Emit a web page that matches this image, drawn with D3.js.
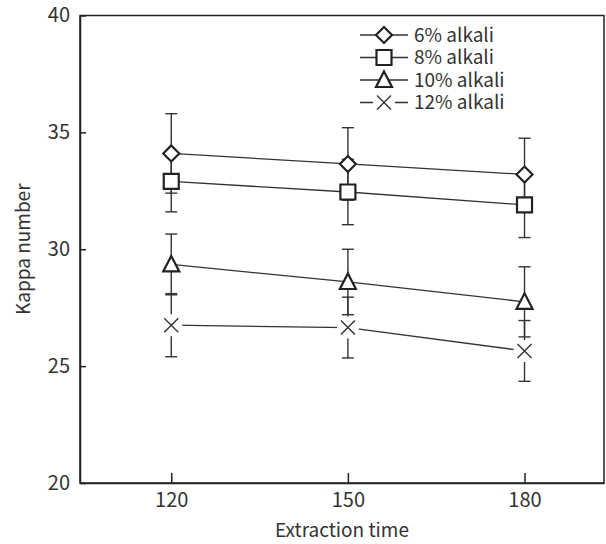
<!DOCTYPE html>
<html>
<head>
<meta charset="utf-8">
<script src="https://cdn.jsdelivr.net/npm/d3@7"></script>
<style>
  body { margin: 0; background: #fff; }
  svg { display: block; }
  text { font-family: "Noto Sans CJK KR", "Noto Sans", sans-serif; fill: #333; }
</style>
</head>
<body>
<div id="chart"></div>
<script>
// data
var times = [120, 150, 180];
var seriesNames = ["6% alkali", "8% alkali", "10% alkali", "12% alkali"];
var shapes = ["diamond", "square", "triangle", "cross"];
var kappa6 = [34.1, 33.65, 33.2];
var kappa8 = [32.9, 32.45, 31.9];
var kappa10 = [29.35, 28.6, 27.75];
var kappa12 = [26.75, 26.65, 25.65];
var err6 = [1.7, 1.55, 1.55];
var err8 = [1.3, 1.4, 1.4];
var err10 = [1.3, 1.4, 1.5];
var err12 = [1.35, 1.3, 1.3];
var yTicks = [20, 25, 30, 35, 40];

var values = [kappa6, kappa8, kappa10, kappa12];
var errors = [err6, err8, err10, err12];

var series = seriesNames.map(function(name, i) {
	return {
		name: name,
		shape: shapes[i],
		points: times.map(function(t, j) { return {t: t, v: values[i][j], e: errors[i][j]}; })
	};
});

var width = 606, height = 544;
var plotLeft = 80, plotRight = 604, plotTop = 15.5, plotBottom = 483;

var svg = d3.select("#chart").append("svg")
	.attr("width", width)
	.attr("height", height);

var x = d3.scaleLinear().domain([104.5, 193.5]).range([plotLeft, plotRight]);
var y = d3.scaleLinear().domain([20, 40]).range([plotBottom, plotTop]);

function shapePath(shape) {
	var p = d3.path();
	if (shape == "diamond") {
		p.moveTo(0, -8); p.lineTo(8, 0); p.lineTo(0, 8); p.lineTo(-8, 0); p.closePath();
	} else if (shape == "square") {
		p.rect(-7.5, -7.5, 15, 15);
	} else if (shape == "triangle") {
		p.moveTo(0, -8.5); p.lineTo(8, 7); p.lineTo(-8, 7); p.closePath();
	} else {
		p.moveTo(-7, -7); p.lineTo(7, 7);
		p.moveTo(7, -7); p.lineTo(-7, 7);
	}
	return p.toString();
}

function drawMarker(g, shape) {
	if (shape == "cross") {
		g.append("circle").attr("r", 11).attr("fill", "#fff");
		g.append("path").attr("d", shapePath(shape))
			.attr("fill", "none").attr("stroke", "#333").attr("stroke-width", 1.4);
	} else {
		g.append("path").attr("d", shapePath(shape))
			.attr("fill", "#fff").attr("stroke", "#222").attr("stroke-width", 2.2);
	}
}

// axes
svg.append("g")
	.attr("transform", `translate(${plotLeft},0)`)
	.call(d3.axisLeft(y).tickValues(yTicks).tickSizeInner(-6).tickSizeOuter(0).tickPadding(10))
	.call(g => g.selectAll("text").style("font-size", "20px").attr("fill", "#333"))
	.call(g => g.selectAll("line, path").attr("stroke", "#222").attr("stroke-width", 1.5));

svg.append("g")
	.attr("transform", `translate(0,${plotBottom})`)
	.call(d3.axisBottom(x).tickValues(times).tickSizeInner(-10).tickSizeOuter(0).tickPadding(10))
	.call(g => g.selectAll("text").style("font-size", "20px").attr("fill", "#333"))
	.call(g => g.selectAll("line, path").attr("stroke", "#222").attr("stroke-width", 1.5));

// frame
svg.append("rect")
	.attr("x", plotLeft).attr("y", plotTop)
	.attr("width", plotRight - plotLeft).attr("height", plotBottom - plotTop)
	.attr("fill", "none").attr("stroke", "#222").attr("stroke-width", 1.5);

svg.append("text")
	.attr("x", (plotLeft + plotRight) / 2).attr("y", 537)
	.attr("text-anchor", "middle")
	.style("font-size", "19px")
	.text("Extraction time");

svg.append("text")
	.attr("transform", `translate(30,${(plotTop + plotBottom) / 2}) rotate(-90)`)
	.attr("text-anchor", "middle")
	.style("font-size", "19px")
	.text("Kappa number");

// lines
var line = d3.line().x(d => x(d.t)).y(d => y(d.v));
svg.selectAll(".series-line")
	.data(series)
	.enter()
	.append("path")
	.attr("class", "series-line")
	.attr("d", d => line(d.points))
	.attr("fill", "none")
	.attr("stroke", "#333")
	.attr("stroke-width", 1.3);

// error bars
series.forEach(function(s) {
	var eb = svg.append("g").attr("stroke", "#333").attr("stroke-width", 1.4);
	s.points.forEach(function(d) {
		var cx = x(d.t);
		eb.append("line").attr("x1", cx).attr("x2", cx).attr("y1", y(d.v - d.e)).attr("y2", y(d.v + d.e));
		eb.append("line").attr("x1", cx - 6).attr("x2", cx + 6).attr("y1", y(d.v + d.e)).attr("y2", y(d.v + d.e));
		eb.append("line").attr("x1", cx - 6).attr("x2", cx + 6).attr("y1", y(d.v - d.e)).attr("y2", y(d.v - d.e));
	});
});

// markers
series.forEach(function(s) {
	s.points.forEach(function(d) {
		var g = svg.append("g").attr("transform", `translate(${x(d.t)},${y(d.v)})`);
		drawMarker(g, s.shape);
	});
});

// legend
var legend = svg.append("g");
series.forEach(function(s, i) {
	var ly = 35 + i * 22.5;
	legend.append("line")
		.attr("x1", 360).attr("x2", 408)
		.attr("y1", ly).attr("y2", ly)
		.attr("stroke", "#333").attr("stroke-width", 1.3);
	var g = legend.append("g").attr("transform", `translate(384,${ly})`);
	drawMarker(g, s.shape);
	legend.append("text")
		.attr("x", 414).attr("y", ly)
		.attr("dy", "0.35em")
		.style("font-size", "19px")
		.text(s.name);
});
</script>
</body>
</html>
